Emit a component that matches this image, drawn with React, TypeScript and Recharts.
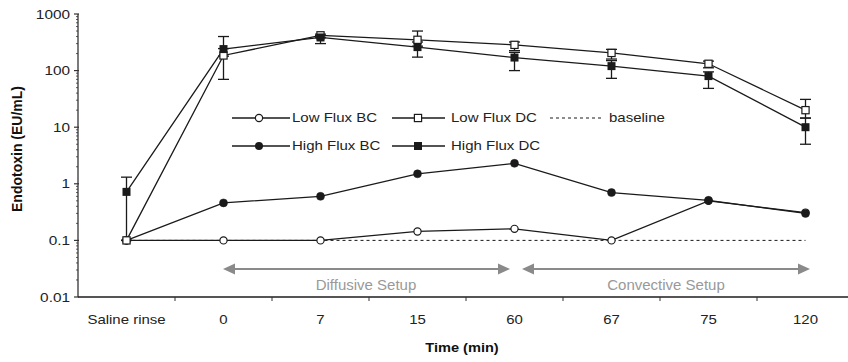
import React from 'react'
import { LineChart, Line, XAxis, YAxis, ErrorBar, Legend } from 'recharts'

// ---- data (log scale, EU/mL) ----
const categories = ['Saline rinse', '0', '7', '15', '60', '67', '75', '120']
const lowFluxBC = [0.1, 0.1, 0.1, 0.144, 0.16, 0.1, 0.5, 0.31]
const highFluxBC = [0.1, 0.46, 0.6, 1.5, 2.3, 0.7, 0.51, 0.3]
const lowFluxDC = [0.1, 185, 420, 350, 285, 205, 132, 20]
const highFluxDC = [0.72, 240, 385, 260, 170, 120, 80, 10]
const baseline = [0.1, 0.1, 0.1, 0.1, 0.1, 0.1, 0.1, 0.1]

// error bars as [minus, plus]
const lowFluxDCErr = [[0, 0], [115, 60], [40, 20], [80, 150], [60, 35], [45, 32], [20, 15], [5.5, 11]]
const highFluxDCErr = [[0.62, 0.59], [60, 160], [85, 30], [87, 60], [70, 40], [47, 30], [31.5, 15], [5, 4.5]]

const yMajorTicks = [0.01, 0.1, 1, 10, 100, 1000]
const yMajorLabels = ['0.01', '0.1', '1', '10', '100', '1000']
const minorSteps = [2, 3, 4, 5, 6, 7, 8, 9]

const rows = categories.map((c, i) => ({
  cat: c,
  lowBC: lowFluxBC[i],
  highBC: highFluxBC[i],
  lowDC: lowFluxDC[i],
  highDC: highFluxDC[i],
  base: baseline[i],
  lowDCErr: lowFluxDCErr[i],
  highDCErr: highFluxDCErr[i],
}))

const yTicks: number[] = []
yMajorTicks.forEach((m, i) => {
  yTicks.push(m)
  if (i < yMajorTicks.length - 1) minorSteps.forEach((s) => yTicks.push(+(m * s).toPrecision(3)))
})

// layout
const W = 880
const H = 362
const M = { top: 14, right: 26, bottom: 0, left: 0 }
const Y_W = 78
const X_H = 65
const BAND = (W - M.left - M.right - Y_W) / categories.length

const INK = '#1a1a1a'
const FONT = '"Liberation Sans", Arial, sans-serif'

// the source figure is stretched sideways a little, so text gets a horizontal scale
function SText({ x, y, size, sx = 1.17, anchor = 'start', weight = 'normal', fill = '#222', children }: any) {
  return (
    <text
      transform={`translate(${x} ${y}) scale(${sx} 1)`}
      textAnchor={anchor}
      fontFamily={FONT}
      fontSize={size}
      fontWeight={weight}
      fill={fill}
    >
      {children}
    </text>
  )
}

function marker(kind: 'oc' | 'fc' | 'os' | 'fs') {
  return (props: any) => {
    const { cx, cy, index } = props
    if (cx == null || cy == null) return <g key={index} />
    if (kind === 'oc') return <circle key={index} cx={cx} cy={cy} r={3.6} fill="#fff" stroke={INK} strokeWidth={1.2} />
    if (kind === 'fc') return <circle key={index} cx={cx} cy={cy} r={4} fill={INK} stroke={INK} strokeWidth={0.5} />
    if (kind === 'os') return <rect key={index} x={cx - 3.6} y={cy - 3.6} width={7.2} height={7.2} fill="#fff" stroke={INK} strokeWidth={1.2} />
    return <rect key={index} x={cx - 4} y={cy - 4} width={8} height={8} fill={INK} />
  }
}

function XTick(props: any) {
  const { x, y, payload, index } = props
  return (
    <g>
      {index > 0 && <line x1={x - BAND / 2} x2={x - BAND / 2} y1={y} y2={y + 4} stroke="#333" strokeWidth={1} />}
      <SText x={x} y={y + 26.5} size={12.8} anchor="middle">
        {payload.value}
      </SText>
    </g>
  )
}

function YTick(props: any) {
  const { x, y, payload } = props
  const i = yMajorTicks.indexOf(payload.value)
  if (i < 0) return <line x1={x - 2} x2={x} y1={y} y2={y} stroke="#333" strokeWidth={0.8} />
  return (
    <g>
      <line x1={x - 4} x2={x + 1} y1={y} y2={y} stroke="#333" strokeWidth={1.2} />
      <SText x={x - 8} y={y + 4.6} size={12.8} sx={1.2} anchor="end">
        {yMajorLabels[i]}
      </SText>
    </g>
  )
}

function LegendBox() {
  const r1 = 13
  const r2 = 41
  const t = { size: 12.5, sx: 1.2 }
  return (
    <svg width={470} height={56} style={{ display: 'block' }}>
      <line x1={7} x2={65} y1={r1} y2={r1} stroke={INK} strokeWidth={1.3} />
      <circle cx={34} cy={r1} r={3.6} fill="#fff" stroke={INK} strokeWidth={1.2} />
      <SText x={67} y={r1 + 4.4} {...t}>Low Flux BC</SText>

      <line x1={167} x2={220} y1={r1} y2={r1} stroke={INK} strokeWidth={1.3} />
      <rect x={189.4} y={r1 - 3.6} width={7.2} height={7.2} fill="#fff" stroke={INK} strokeWidth={1.2} />
      <SText x={226} y={r1 + 4.4} {...t}>Low Flux DC</SText>

      <line x1={325} x2={377} y1={r1} y2={r1} stroke={INK} strokeWidth={1} strokeDasharray="3 3" />
      <SText x={384} y={r1 + 4.4} {...t}>baseline</SText>

      <line x1={7} x2={65} y1={r2} y2={r2} stroke={INK} strokeWidth={1.3} />
      <circle cx={34} cy={r2} r={4} fill={INK} />
      <SText x={67} y={r2 + 4.4} {...t}>High Flux BC</SText>

      <line x1={167} x2={220} y1={r2} y2={r2} stroke={INK} strokeWidth={1.3} />
      <rect x={189} y={r2 - 4} width={8} height={8} fill={INK} />
      <SText x={226} y={r2 + 4.4} {...t}>High Flux DC</SText>
    </svg>
  )
}

function Arrow({ x1, x2, y }: { x1: number; x2: number; y: number }) {
  const c = '#8a8a8a'
  return (
    <g>
      <line x1={x1 + 8} x2={x2 - 8} y1={y} y2={y} stroke={c} strokeWidth={2} />
      <polygon points={`${x1},${y} ${x1 + 12},${y - 5.5} ${x1 + 12},${y + 5.5}`} fill={c} />
      <polygon points={`${x2},${y} ${x2 - 12},${y - 5.5} ${x2 - 12},${y + 5.5}`} fill={c} />
    </g>
  )
}

export default function App() {
  return (
    <div style={{ position: 'fixed', left: 0, top: 0, width: 848, height: 362, overflow: 'hidden', background: '#fff' }}>
      <LineChart width={W} height={H} data={rows} margin={M}>
        <XAxis
          dataKey="cat"
          scale="band"
          height={X_H}
          tickSize={0}
          tickMargin={0}
          tickLine={false}
          interval={0}
          axisLine={{ stroke: '#555', strokeWidth: 1.8 }}
          tick={<XTick />}
          label={{
            content: ({ viewBox }: any) => (
              <SText x={viewBox.x + viewBox.width / 2 - 4} y={viewBox.y + viewBox.height - 10} size={13.5} sx={1.08} weight="bold" anchor="middle" fill="#111">
                Time (min)
              </SText>
            ),
          }}
        />
        <YAxis
          scale="log"
          domain={[0.01, 1000]}
          ticks={yTicks}
          interval={0}
          width={Y_W}
          tickSize={0}
          tickMargin={0}
          tickLine={false}
          allowDataOverflow
          axisLine={{ stroke: '#333', strokeWidth: 1.3 }}
          tick={<YTick />}
          label={{
            content: ({ viewBox }: any) => (
              <text
                transform={`translate(22 ${viewBox.y + viewBox.height / 2 - 6.5}) rotate(-90)`}
                textAnchor="middle"
                fontFamily={FONT}
                fontSize={14}
                fontWeight="bold"
                fill="#111"
              >
                Endotoxin (EU/mL)
              </text>
            ),
          }}
        />
        <Legend
          layout="horizontal"
          verticalAlign="middle"
          align="center"
          wrapperStyle={{ left: 225, top: 105, width: 470, height: 56 }}
          content={() => <LegendBox />}
        />
        <Line dataKey="base" stroke={INK} strokeWidth={1} strokeDasharray="3 3" dot={false} isAnimationActive={false} />
        <Line dataKey="lowBC" stroke={INK} strokeWidth={1.3} dot={marker('oc')} isAnimationActive={false} />
        <Line dataKey="highBC" stroke={INK} strokeWidth={1.3} dot={marker('fc')} isAnimationActive={false} />
        <Line dataKey="lowDC" stroke={INK} strokeWidth={1.3} dot={marker('os')} isAnimationActive={false}>
          <ErrorBar dataKey="lowDCErr" width={5.5} stroke={INK} strokeWidth={1.3} direction="y" />
        </Line>
        <Line dataKey="highDC" stroke={INK} strokeWidth={1.3} dot={marker('fs')} isAnimationActive={false}>
          <ErrorBar dataKey="highDCErr" width={5.5} stroke={INK} strokeWidth={1.3} direction="y" />
        </Line>
      </LineChart>
      <svg width={848} height={362} style={{ position: 'absolute', left: 0, top: 0, pointerEvents: 'none' }}>
        <Arrow x1={223} x2={510} y={269} />
        <text x={366} y={290} textAnchor="middle" fontFamily={FONT} fontSize={15} fill="#999">
          Diffusive Setup
        </text>
        <Arrow x1={522} x2={810} y={269} />
        <text x={666} y={290} textAnchor="middle" fontFamily={FONT} fontSize={15} fill="#999">
          Convective Setup
        </text>
      </svg>
    </div>
  )
}
